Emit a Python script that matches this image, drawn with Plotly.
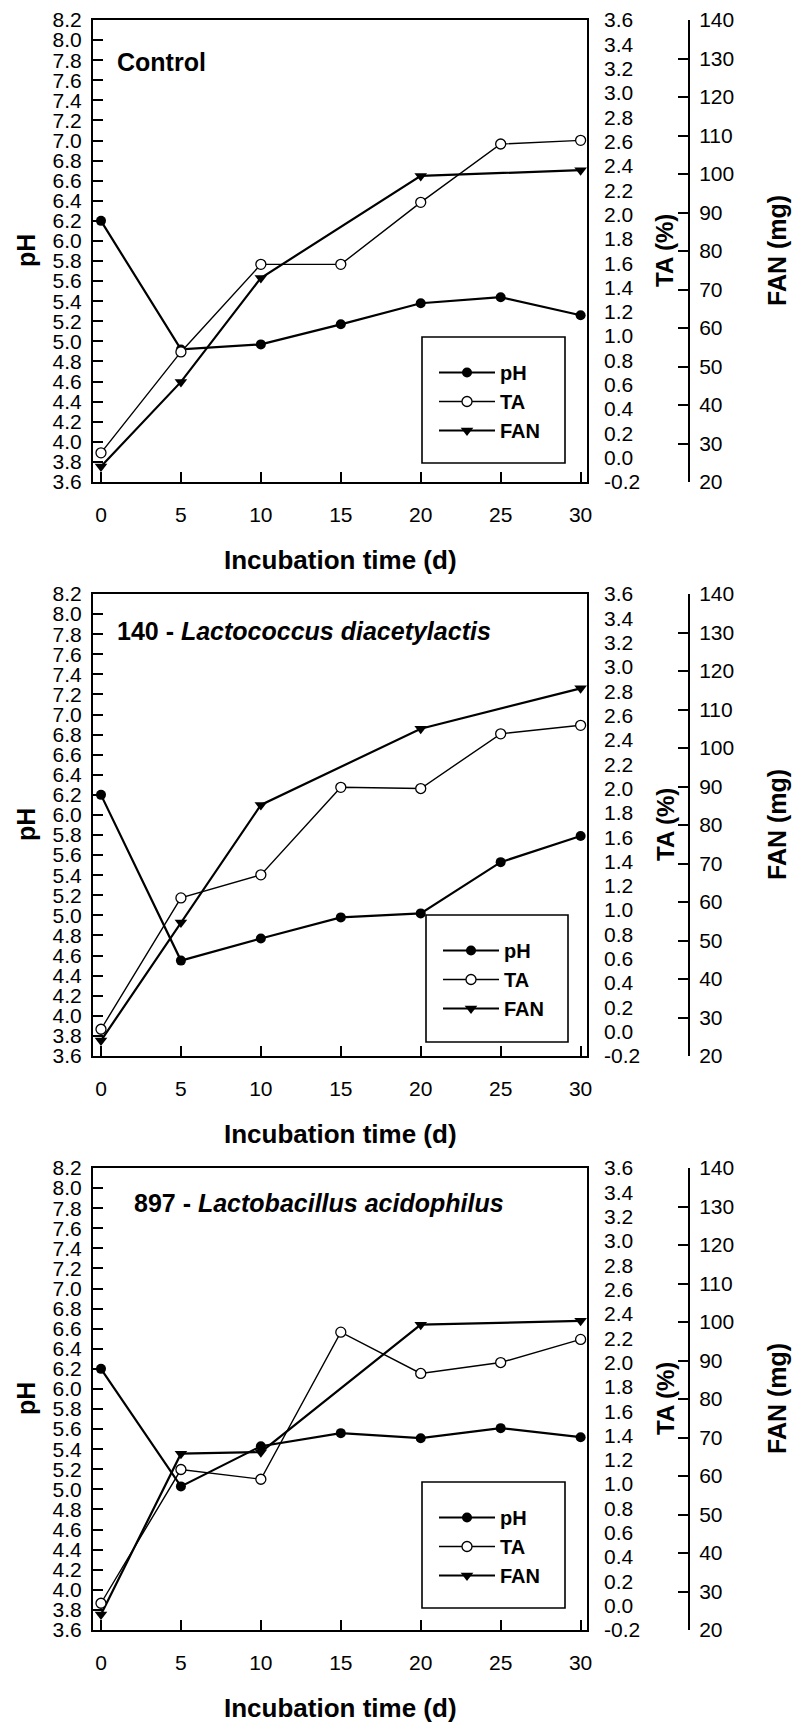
import plotly.graph_objects as go

# ---------------- data ----------------
days = [0, 5, 10, 15, 20, 25, 30]
fan_days = [0, 5, 10, 20, 30]

panel_labels = [
    "<b>Control</b>",
    "<b>140 - <i>Lactococcus diacetylactis</i></b>",
    "<b>897 - <i>Lactobacillus acidophilus</i></b>",
]

control_ph = [6.20, 4.92, 4.97, 5.17, 5.38, 5.44, 5.26]
control_ta = [0.04, 0.87, 1.59, 1.59, 2.10, 2.58, 2.61]
control_fan = [24.0, 46.0, 73.0, 99.5, 101.0]

lacto_ph = [6.20, 4.55, 4.77, 4.98, 5.02, 5.53, 5.79]
lacto_ta = [0.02, 1.10, 1.29, 2.01, 2.00, 2.45, 2.52]
lacto_fan = [24.0, 54.7, 85.2, 105.0, 115.5]

acido_ph = [6.20, 5.03, 5.43, 5.56, 5.51, 5.61, 5.52]
acido_ta = [0.02, 1.12, 1.04, 2.25, 1.91, 2.00, 2.19]
acido_fan = [24.0, 65.8, 66.2, 99.3, 100.3]

x_ticks = [0, 5, 10, 15, 20, 25, 30]
ph_ticks = [3.6, 3.8, 4.0, 4.2, 4.4, 4.6, 4.8, 5.0, 5.2, 5.4, 5.6, 5.8,
            6.0, 6.2, 6.4, 6.6, 6.8, 7.0, 7.2, 7.4, 7.6, 7.8, 8.0, 8.2]
ta_ticks = [-0.2, 0.0, 0.2, 0.4, 0.6, 0.8, 1.0, 1.2, 1.4, 1.6, 1.8, 2.0,
            2.2, 2.4, 2.6, 2.8, 3.0, 3.2, 3.4, 3.6]
fan_ticks = [20, 30, 40, 50, 60, 70, 80, 90, 100, 110, 120, 130, 140]

panels = [
    (control_ph, control_ta, control_fan),
    (lacto_ph, lacto_ta, lacto_fan),
    (acido_ph, acido_ta, acido_fan),
]

# ---------------- layout geometry (pixels) ----------------
W, H = 792, 1724
BOX_L, BOX_R = 93, 587
TA_LABEL_X = 603
FAN_X = 689
BOX_H = 462
tops = [20, 594, 1168]
label_dx = [115, 115, 132]
label_dy = [42, 37, 35]
legend_boxes = [(422, 337, 565, 463), (426, 915, 568, 1042), (422, 1482, 565, 1608)]

FONT = "Liberation Sans, Arial, sans-serif"
TICKFONT = dict(family=FONT, size=21, color="black")
TITLEFONT = dict(family=FONT, size=25, color="black")


def px_x(p):
    return p / W


def px_y(p):
    return 1 - p / H


fig = go.Figure()
layout = dict(
    width=W, height=H,
    margin=dict(l=0, r=0, t=0, b=0, autoexpand=False),
    paper_bgcolor="white", plot_bgcolor="white",
    font=dict(family=FONT, color="black"),
    showlegend=True,
)
annotations = []
shapes = []

for i, (ph, ta, fan) in enumerate(panels):
    top = tops[i]
    bot = top + BOX_H
    xn = "x" if i == 0 else f"x{i + 1}"
    xk = "xaxis" if i == 0 else f"xaxis{i + 1}"
    y_ph = 4 * i + 1     # pH axis (left) + box
    y_tat = 4 * i + 2    # TA inside ticks on the box's right edge
    y_fan = 4 * i + 3    # FAN free axis
    y_ta = 4 * i + 4     # TA tick labels (free axis, carries TA data)
    yn_ph = "y" if y_ph == 1 else f"y{y_ph}"
    yk_ph = "yaxis" if y_ph == 1 else f"yaxis{y_ph}"
    leg = "legend" if i == 0 else f"legend{i + 1}"

    layout[xk] = dict(
        domain=[px_x(BOX_L), px_x(BOX_R)], anchor=yn_ph,
        range=[-0.5, 30.4], tickmode="array", tickvals=x_ticks,
        ticktext=[str(v) for v in x_ticks],
        ticks="inside", ticklen=10, tickwidth=2, tickcolor="black",
        showline=True, linewidth=2, linecolor="black", mirror=True,
        showgrid=False, zeroline=False, tickfont=TICKFONT,
        ticklabelstandoff=13,
    )
    layout[yk_ph] = dict(
        domain=[px_y(bot), px_y(top)], anchor=xn,
        range=[3.6, 8.2], tickmode="array", tickvals=ph_ticks,
        ticktext=[f"{v:.1f}" for v in ph_ticks],
        ticks="inside", ticklen=10, tickwidth=2, tickcolor="black",
        showline=True, linewidth=2, linecolor="black", mirror=True,
        showgrid=False, zeroline=False, tickfont=TICKFONT,
        ticklabelstandoff=5,
    )
    layout[f"yaxis{y_tat}"] = dict(
        overlaying=yn_ph, anchor=xn, side="right",
        range=[-0.2, 3.6], tickmode="array", tickvals=ta_ticks,
        ticks="inside", ticklen=10, tickwidth=2, tickcolor="black",
        showticklabels=False,
        showline=False, showgrid=False, zeroline=False,
    )
    layout[f"yaxis{y_ta}"] = dict(
        overlaying=yn_ph, anchor="free", position=px_x(TA_LABEL_X), side="right",
        range=[-0.2, 3.6], tickmode="array", tickvals=ta_ticks,
        ticktext=[f"{v:.1f}" for v in ta_ticks],
        ticks="", showline=False, showgrid=False, zeroline=False,
        tickfont=TICKFONT,
    )
    layout[f"yaxis{y_fan}"] = dict(
        overlaying=yn_ph, anchor="free", position=px_x(FAN_X), side="right",
        range=[20, 140], tickmode="array", tickvals=fan_ticks,
        ticktext=[str(v) for v in fan_ticks],
        ticks="inside", ticklen=10, tickwidth=2, tickcolor="black",
        showline=True, linewidth=2, linecolor="black",
        showgrid=False, zeroline=False, tickfont=TICKFONT,
        ticklabelstandoff=5,
    )

    # traces
    fig.add_trace(go.Scatter(
        x=days, y=ph, name="pH", xaxis=xn, yaxis=yn_ph, legend=leg,
        mode="lines+markers", line=dict(color="black", width=2.2),
        marker=dict(symbol="circle", size=10, color="black"),
        cliponaxis=False,
    ))
    fig.add_trace(go.Scatter(
        x=days, y=ta, name="TA", xaxis=xn, yaxis=f"y{y_ta}", legend=leg,
        mode="lines+markers", line=dict(color="black", width=1.4),
        marker=dict(symbol="circle", size=10, color="white",
                    line=dict(color="black", width=1.3)),
        cliponaxis=False,
    ))
    fig.add_trace(go.Scatter(
        x=fan_days, y=fan, name="FAN", xaxis=xn, yaxis=f"y{y_fan}", legend=leg,
        mode="lines+markers", line=dict(color="black", width=2.2),
        marker=dict(symbol="triangle-down", size=11, color="black"),
        cliponaxis=False,
    ))

    # legend
    lx0, ly0, lx1, ly1 = legend_boxes[i]
    layout[leg] = dict(
        x=px_x(lx0 + 12), y=px_y(ly0 + 16), xanchor="left", yanchor="top",
        bgcolor="rgba(0,0,0,0)", borderwidth=0,
        font=dict(family=FONT, size=20, color="black", weight="bold"),
        itemwidth=56, tracegroupgap=0,
    )
    shapes.append(dict(
        type="rect", xref="paper", yref="paper",
        x0=px_x(lx0), x1=px_x(lx1), y0=px_y(ly1), y1=px_y(ly0),
        line=dict(color="black", width=1.6), fillcolor="rgba(0,0,0,0)",
        layer="above",
    ))

    # titles
    mid = top + BOX_H / 2
    annotations.append(dict(
        text="<b>pH</b>", x=px_x(26), y=px_y(mid), xref="paper", yref="paper",
        textangle=-90, showarrow=False, font=TITLEFONT,
        xanchor="center", yanchor="middle"))
    annotations.append(dict(
        text="<b>TA (%)</b>", x=px_x(665), y=px_y(mid), xref="paper", yref="paper",
        textangle=-90, showarrow=False, font=dict(family=FONT, size=24, color="black"),
        xanchor="center", yanchor="middle"))
    annotations.append(dict(
        text="<b>FAN (mg)</b>", x=px_x(777), y=px_y(mid), xref="paper", yref="paper",
        textangle=-90, showarrow=False, font=TITLEFONT,
        xanchor="center", yanchor="middle"))
    annotations.append(dict(
        text="<b>Incubation time (d)</b>", x=px_x((BOX_L + BOX_R) / 2),
        y=px_y(bot + 78), xref="paper", yref="paper", showarrow=False,
        font=dict(family=FONT, size=26, color="black"),
        xanchor="center", yanchor="middle"))
    annotations.append(dict(
        text=panel_labels[i], x=px_x(label_dx[i]), y=px_y(top + label_dy[i]),
        xref="paper", yref="paper", showarrow=False, font=TITLEFONT,
        xanchor="left", yanchor="middle"))

layout["annotations"] = annotations
layout["shapes"] = shapes
fig.update_layout(**layout)

fig.write_html("out.html")
